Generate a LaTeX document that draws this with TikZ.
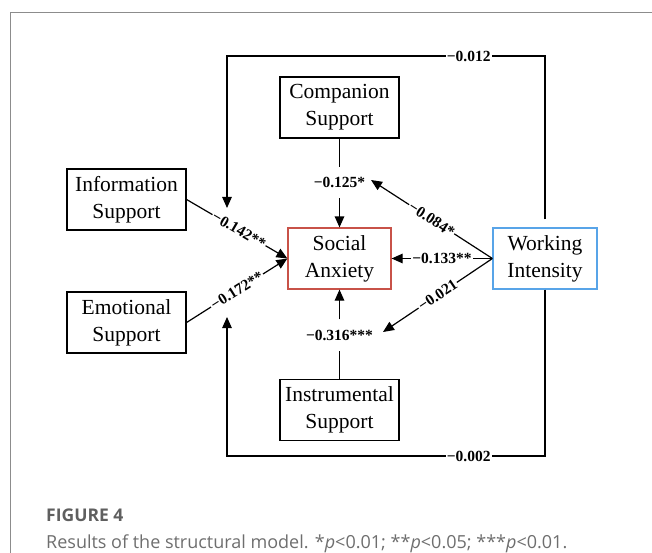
\documentclass[tikz,border=0pt]{standalone}
\usepackage{fontspec}
\setmainfont{Liberation Serif}
\newfontfamily\capfont{Open Sans}
\usetikzlibrary{arrows.meta,calc}
\definecolor{redbox}{RGB}{200,82,72}
\definecolor{bluebox}{RGB}{88,164,232}
\definecolor{framegray}{RGB}{140,140,140}
\definecolor{capgray}{RGB}{95,95,95}
\definecolor{textgray}{RGB}{110,110,110}
\begin{document}
\begin{tikzpicture}[x=1pt,y=-1pt,
  box/.style={draw=black, line width=1.2pt, align=center, inner sep=0pt,
    font=\fontsize{21.5}{27}\selectfont},
  sbox/.style={box, minimum width=119pt, minimum height=61pt},
  cbox/.style={box, minimum width=103pt, minimum height=61pt},
  lab/.style={font=\fontsize{15.5}{18}\selectfont\bfseries, fill=white, inner xsep=1pt, inner ysep=1pt},
  midlab/.style={font=\fontsize{15.5}{18}\selectfont\bfseries, inner xsep=3pt, inner ysep=0pt, minimum height=31pt},
  conn/.style={line width=1.2pt},
  arr/.style={conn, -{Triangle[length=11pt,width=9.5pt]}}]
\useasboundingbox (0,0) rectangle (652,553);
% frame
\draw[framegray, line width=1.8pt] (10.5,553) -- (10.5,12.5) -- (652,12.5);
% nodes
\node[sbox] (comp) at (339.5,107.5) {Companion\\Support};
\node[sbox] (info) at (126.5,199.5) {Information\\Support};
\node[sbox] (emo) at (126.5,322.5) {Emotional\\Support};
\node[cbox, draw=redbox] (soc) at (339.5,258.5) {Social\\Anxiety};
\node[cbox, draw=bluebox, minimum width=104pt] (wk) at (545,258.5) {Working\\Intensity};
\node[sbox] (inst) at (339.5,410) {Instrumental\\Support};
% middle labels
\node[midlab] (L1) at (339.5,182.5) {−0.125*};
\node[midlab] (L2) at (339.5,335) {−0.316***};
% free ends
\coordinate (t1) at (371,180);
\coordinate (t2) at (383,332);
\coordinate (tl) at (227,56);
\coordinate (t3) at (227,208);
\coordinate (bl) at (227,456);
\coordinate (t4) at (227,317);
% connectors
\draw[conn] (comp.south) -- (L1.north);
\draw[arr] (L1.south) -- (soc.north);
\draw[conn] (inst.north) -- (L2.south);
\draw[arr] (L2.north) -- (soc.south);
\draw[arr] (info.east) -- node[lab, sloped, pos=0.52] {−0.142**} (soc.west);
\draw[arr] (emo.east) -- node[lab, sloped, pos=0.5] {−0.172**} (soc.west);
\draw[arr] (wk.west) -- node[lab, pos=0.5] {−0.133**} (soc.east);
\draw[arr] (wk.west) -- node[lab, sloped, pos=0.5] {−0.084*} (t1);
\draw[arr] (wk.west) -- node[lab, sloped, pos=0.5] {−0.021} (t2);
\draw[arr, shorten <=8pt] (wk.north) |- node[lab, pos=0.62] {−0.012} (tl) -- (t3);
\draw[arr] (wk.south) |- node[lab, pos=0.62] {−0.002} (bl) -- (t4);
% caption
\node[anchor=base west, inner sep=0pt, font=\capfont\bfseries\fontsize{17.5}{20}\selectfont, text=capgray] (fig) at (46,521) {FIGURE 4};
\node[anchor=base west, inner sep=0pt, font=\capfont\fontsize{18}{22}\selectfont, text=textgray] (cap) at (46,548) {Results of the structural model. *\textit{p}<0.01; **\textit{p}<0.05; ***\textit{p}<0.01.};
\end{tikzpicture}
\end{document}
